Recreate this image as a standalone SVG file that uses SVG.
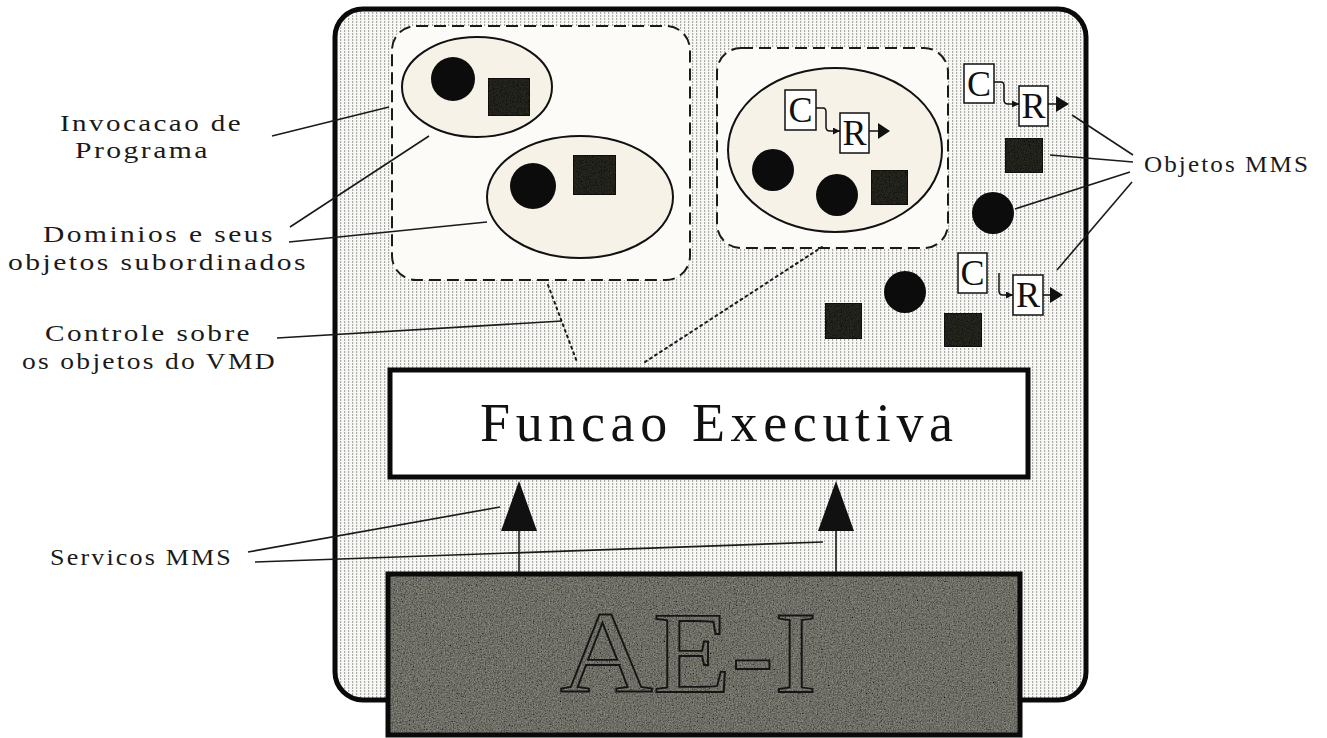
<svg xmlns="http://www.w3.org/2000/svg" width="1327" height="738" viewBox="0 0 1327 738">
<style>
  .lbl { font-family: "Liberation Serif", "Times New Roman", serif; font-size: 24px; letter-spacing: 2px; fill: #1a1a1a; }
  .lead { stroke: #1a1a1a; stroke-width: 1.6; fill: none; }
  .dot { stroke: #1a1a1a; stroke-width: 2; fill: none; stroke-dasharray: 2 4; stroke-linecap: round; }
  .dash { fill: #fcfbf8; stroke: #1a1a1a; stroke-width: 2; stroke-dasharray: 12 6; }
  .ell { fill: #f6f2e8; stroke: #111; stroke-width: 2; }
  .blob { fill: #0c0c0c; }
  .sq { fill: #2e2e26; stroke: #111; stroke-width: 1.5; }
  .box { fill: #ffffff; stroke: #111; stroke-width: 1.5; }
  .cr { font-family: "Liberation Serif", "Times New Roman", serif; font-size: 36px; fill: #111; text-anchor: middle; }
  .wire { stroke: #111; stroke-width: 1.5; fill: none; }
  .head { fill: #111; }
</style>
<defs>
  <pattern id="dots" width="4" height="3" patternUnits="userSpaceOnUse">
    <rect width="4" height="3" fill="#f8f8f6"/>
    <rect x="0" y="0" width="1.2" height="2" fill="#ababa6"/>
  </pattern>
  <filter id="grain" x="0" y="0" width="1" height="1">
    <feTurbulence type="fractalNoise" baseFrequency="0.75" numOctaves="2" seed="7" result="n"/>
    <feColorMatrix in="n" type="saturate" values="0" result="g"/>
    <feComponentTransfer in="g" result="c">
      <feFuncR type="linear" slope="1.8" intercept="-0.35"/>
      <feFuncG type="linear" slope="1.8" intercept="-0.35"/>
      <feFuncB type="linear" slope="1.8" intercept="-0.35"/>
      <feFuncA type="linear" slope="0" intercept="1"/>
    </feComponentTransfer>
    <feBlend in="SourceGraphic" in2="c" mode="multiply" result="b"/>
    <feComposite in="b" in2="SourceGraphic" operator="in"/>
  </filter>
  <marker id="sm" viewBox="0 0 8 8" refX="8" refY="4" markerWidth="7" markerHeight="7" markerUnits="userSpaceOnUse" orient="auto">
    <path d="M0,0 L8,4 L0,8 Z" fill="#111"/>
  </marker>
</defs>

<rect width="1327" height="738" fill="#ffffff"/>

<!-- main VMD frame -->
<g id="vmd-frame">
  <rect x="335" y="9" width="751" height="691" rx="28" fill="url(#dots)" stroke="#0a0a0a" stroke-width="5"/>
</g>

<!-- domain groups -->
<g id="domain-group-left">
  <rect class="dash" x="392" y="26" width="298" height="254" rx="24"/>
</g>
<g id="domain-1">
  <ellipse class="ell" cx="477" cy="87" rx="75" ry="50"/>
  <circle class="blob" cx="453" cy="79" r="22"/>
  <rect class="sq" x="488" y="78" width="42" height="38" filter="url(#grain)"/>
</g>
<g id="domain-2">
  <ellipse class="ell" cx="580" cy="197" rx="93" ry="61"/>
  <circle class="blob" cx="533" cy="186" r="23"/>
  <rect class="sq" x="573" y="155" width="43" height="40" filter="url(#grain)"/>
</g>

<g id="domain-group-right">
  <rect class="dash" x="717" y="48" width="231" height="200" rx="24"/>
</g>
<g id="domain-3">
  <ellipse class="ell" cx="835" cy="150" rx="107" ry="82"/>
  <rect class="box" x="785" y="90" width="31" height="40"/>
  <text class="cr" x="800.5" y="122">C</text>
  <rect class="box" x="840" y="113" width="29" height="40"/>
  <text class="cr" x="854.5" y="145">R</text>
  <path class="wire" d="M816,108 H823 Q826,108 826,112 V127 Q826,131 830,131 H840" marker-end="url(#sm)"/>
  <path class="wire" d="M869,131 H878"/>
  <polygon class="head" points="878,123 878,139 890,131"/>
  <circle class="blob" cx="773" cy="170" r="21"/>
  <circle class="blob" cx="837" cy="195" r="21"/>
  <rect class="sq" x="871" y="170" width="37" height="35" filter="url(#grain)"/>
</g>

<!-- free MMS objects -->
<g id="program-invocation-1">
  <rect class="box" x="964" y="64" width="30" height="39"/>
  <text class="cr" x="979" y="96">C</text>
  <rect class="box" x="1019" y="86" width="29" height="40"/>
  <text class="cr" x="1033.5" y="118">R</text>
  <path class="wire" d="M994,82 H1001 Q1004,82 1004,86 V100 Q1004,104 1008,104 H1019" marker-end="url(#sm)"/>
  <path class="wire" d="M1048,104 H1056"/>
  <polygon class="head" points="1056,96 1056,112 1069,104"/>
</g>
<g id="object-square-1"><rect class="sq" x="1005" y="138" width="38" height="35" filter="url(#grain)"/></g>
<g id="object-circle-1"><circle class="blob" cx="993" cy="213" r="21"/></g>
<g id="program-invocation-2">
  <rect class="box" x="958" y="253" width="29" height="40"/>
  <text class="cr" x="972.5" y="285">C</text>
  <rect class="box" x="1013" y="275" width="30" height="40"/>
  <text class="cr" x="1028" y="307">R</text>
  <path class="wire" d="M999,273 V291 Q999,295 1003,295 H1013" marker-end="url(#sm)"/>
  <path class="wire" d="M1043,295 H1050"/>
  <polygon class="head" points="1050,287 1050,303 1063,295"/>
</g>
<g id="object-circle-2"><circle class="blob" cx="905" cy="292" r="21"/></g>
<g id="object-square-2"><rect class="sq" x="825" y="303" width="37" height="36" filter="url(#grain)"/></g>
<g id="object-square-3"><rect class="sq" x="944" y="313" width="38" height="34" filter="url(#grain)"/></g>

<!-- executive function -->
<g id="funcao-executiva">
  <rect x="390" y="370" width="638" height="107" fill="#ffffff" stroke="#0a0a0a" stroke-width="5"/>
  <text x="480" y="441" font-family="'Liberation Serif', 'Times New Roman', serif" font-size="54" fill="#111" textLength="473" lengthAdjust="spacing">Funcao Executiva</text>
</g>

<!-- AE-I -->
<g id="ae-i">
  <rect x="388" y="574" width="632" height="161" fill="#909086" filter="url(#grain)"/>
  <rect x="388" y="574" width="632" height="161" fill="none" stroke="#0a0a0a" stroke-width="5"/>
  <text x="560" y="692" font-family="'Liberation Serif', 'Times New Roman', serif" font-size="117" fill="none" stroke="#151515" stroke-width="1.8" textLength="257" lengthAdjust="spacingAndGlyphs">AE-I</text>
</g>

<!-- connectors -->
<g id="connectors">
  <line class="lead" x1="519" y1="572" x2="519" y2="528"/>
  <polygon class="head" points="519,481 501,531 537,531"/>
  <line class="lead" x1="836" y1="572" x2="836" y2="528"/>
  <polygon class="head" points="836,481 818,531 854,531"/>

  <line class="lead" x1="272" y1="136" x2="389" y2="107"/>
  <line class="lead" x1="290" y1="227" x2="429" y2="136"/>
  <line class="lead" x1="289" y1="242" x2="487" y2="222"/>
  <line class="lead" x1="277" y1="338" x2="562" y2="321"/>
  <line class="dot" x1="548" y1="285" x2="577" y2="362"/>
  <line class="dot" x1="645" y1="362" x2="822" y2="247"/>
  <line class="lead" x1="248" y1="552" x2="500" y2="507"/>
  <line class="lead" x1="255" y1="562" x2="823" y2="542"/>

  <line class="lead" x1="1072" y1="115" x2="1133" y2="155"/>
  <line class="lead" x1="1050" y1="155" x2="1133" y2="162"/>
  <line class="lead" x1="1015" y1="209" x2="1130" y2="172"/>
  <line class="lead" x1="1057" y1="270" x2="1132" y2="182"/>
</g>

<!-- labels -->
<g id="labels">
  <text class="lbl" x="60" y="131" textLength="183" lengthAdjust="spacingAndGlyphs">Invocacao de</text>
  <text class="lbl" x="75" y="158" textLength="135" lengthAdjust="spacingAndGlyphs">Programa</text>
  <text class="lbl" x="43" y="242" textLength="232" lengthAdjust="spacingAndGlyphs">Dominios e seus</text>
  <text class="lbl" x="8" y="270" textLength="300" lengthAdjust="spacingAndGlyphs">objetos subordinados</text>
  <text class="lbl" x="45" y="341" textLength="207" lengthAdjust="spacingAndGlyphs">Controle sobre</text>
  <text class="lbl" x="22" y="369" textLength="255" lengthAdjust="spacingAndGlyphs">os objetos do VMD</text>
  <text class="lbl" x="50" y="565" textLength="183" lengthAdjust="spacingAndGlyphs">Servicos MMS</text>
  <text class="lbl" x="1144" y="172" textLength="166" lengthAdjust="spacingAndGlyphs">Objetos MMS</text>
</g>
</svg>
